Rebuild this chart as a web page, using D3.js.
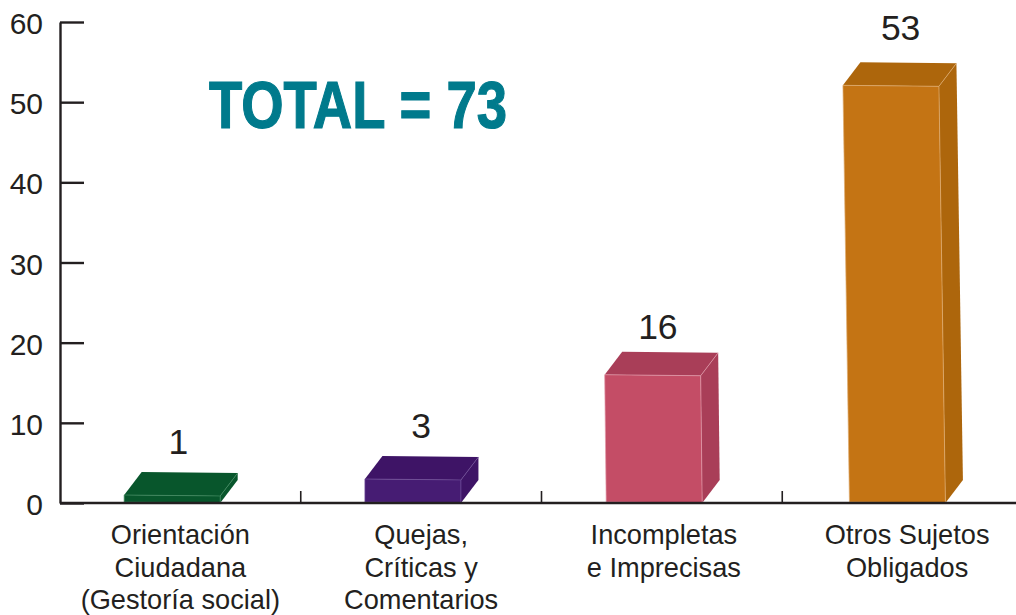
<!DOCTYPE html>
<html>
<head>
<meta charset="utf-8">
<script src="https://cdn.jsdelivr.net/npm/d3@7"></script>
<style>
  html, body { margin: 0; padding: 0; background: #fff; }
  svg { display: block; }
  text { font-family: "Liberation Sans", Arial, sans-serif; fill: #231f20; }
</style>
</head>
<body>
<div id="chart"></div>
<script>
// Data
var categories = ["Orientación", "Quejas", "Incompletas", "Otros Sujetos"];
var categoryLines = [
  ["Orientación", "Ciudadana", "(Gestoría social)"],
  ["Quejas,", "Críticas y", "Comentarios"],
  ["Incompletas", "e Imprecisas"],
  ["Otros Sujetos", "Obligados"]
];
var valueLabels = ["1", "3", "16", "53"];
// heights as drawn (the last bar stops short of its printed 53)
var barHeights = [1, 3, 16, 52.1];
var yTicks = [0, 10, 20, 30, 40, 50, 60];
var totalLabel = "TOTAL = 73";

var frontColors = ["#08562c", "#461c73", "#c44d66", "#c47414"];
var sideColors = ["#08562c", "#3e1466", "#a93e58", "#ad660c"];
var edgeColors = ["#3f8a5f", "#6f4c98", "#e29bab", "#dfae72"];

var svgWidth = 1016;
var svgHeight = 615;

var svg = d3.select("#chart")
  .append("svg")
  .attr("width", svgWidth)
  .attr("height", svgHeight);

// scales
var xScale = d3.scaleBand()
  .domain(categories)
  .range([60, 1023]);

var yScale = d3.scaleLinear()
  .domain([0, 60])
  .range([503, 22]);

// bar shape, the hand drawn boxes lean a little
var barWidth = 96;
var barShift = -8.2;
var depthX = 17.5;
var depthY = 23;
var topLean = [0, 0, -1, -3.5];
var bottomLean = [0, 0, 0.5, 3];

var bars = svg.selectAll("g.bar")
  .data(categories)
  .enter()
  .append("g")
  .attr("class", "bar");

function pts(list) {
  return list.map(p => p.join(",")).join(" ");
}

bars.each(function(d, i) {
  var g = d3.select(this);
  var center = xScale(d) + xScale.bandwidth() / 2 + barShift;
  var top = yScale(barHeights[i]);
  var bottom = yScale(0);
  var tl = [center - barWidth / 2 + topLean[i], top];
  var tr = [center + barWidth / 2 + topLean[i], top + 1];
  var bl = [center - barWidth / 2 + bottomLean[i], bottom - 1];
  var br = [center + barWidth / 2 + bottomLean[i], bottom];
  var tlBack = [tl[0] + depthX, tl[1] - depthY];
  var trBack = [tr[0] + depthX, tr[1] - depthY];
  var brBack = [br[0] + depthX, br[1] - depthY];

  g.append("polygon")
    .attr("points", pts([tr, trBack, brBack, br]))
    .attr("fill", sideColors[i]);
  g.append("polygon")
    .attr("points", pts([tl, tlBack, trBack, tr]))
    .attr("fill", sideColors[i]);
  g.append("polygon")
    .attr("points", pts([tl, tr, br, bl]))
    .attr("fill", frontColors[i])
    .attr("stroke", edgeColors[i])
    .attr("stroke-width", 0.7);
  g.append("line")
    .attr("x1", tr[0]).attr("y1", tr[1])
    .attr("x2", trBack[0]).attr("y2", trBack[1])
    .attr("stroke", edgeColors[i])
    .attr("stroke-width", 0.7);
});

// y axis, ticks point into the plot
var yAxis = svg.append("g")
  .attr("transform", "translate(60, 0)")
  .call(d3.axisLeft(yScale)
    .tickValues(yTicks)
    .tickSize(-24)
    .tickSizeOuter(0)
    .tickPadding(17));

yAxis.selectAll("path, line")
  .attr("stroke", "#231f20")
  .attr("stroke-width", 2.4);
yAxis.selectAll("text")
  .attr("font-size", 30)
  .attr("y", 2)
  .attr("fill", "#231f20");

// x axis line and the ticks between the categories
var baseline = svg.append("g");
baseline.append("line")
  .attr("x1", 60)
  .attr("x2", svgWidth)
  .attr("y1", yScale(0))
  .attr("y2", yScale(0))
  .attr("stroke", "#231f20")
  .attr("stroke-width", 2.4);

baseline.selectAll("line.sep")
  .data(categories.slice(1))
  .enter()
  .append("line")
  .attr("class", "sep")
  .attr("x1", d => xScale(d))
  .attr("x2", d => xScale(d))
  .attr("y1", yScale(0))
  .attr("y2", yScale(0) - 12)
  .attr("stroke", "#231f20")
  .attr("stroke-width", 1.6);

// category labels
var labelNudge = [0, 0, 2, 4.5];
categoryLines.forEach(function(lines, i) {
  var cx = xScale(categories[i]) + xScale.bandwidth() / 2 + labelNudge[i];
  svg.selectAll("text.cat" + i)
    .data(lines)
    .enter()
    .append("text")
    .attr("class", "cat" + i)
    .attr("x", cx)
    .attr("y", (d, j) => 544 + j * 32.6)
    .attr("text-anchor", "middle")
    .attr("font-size", 27.2)
    .text(d => d);
});

// value labels above the bars
var valueNudgeX = [-2, 0, -4, -2];
var valueNudgeY = [-17.5, -17.5, -12.5, -22];
svg.selectAll("text.value")
  .data(valueLabels)
  .enter()
  .append("text")
  .attr("class", "value")
  .attr("x", (d, i) => xScale(categories[i]) + xScale.bandwidth() / 2 + valueNudgeX[i])
  .attr("y", (d, i) => yScale(barHeights[i]) - depthY + valueNudgeY[i])
  .attr("text-anchor", "middle")
  .attr("font-size", 35.5)
  .text(d => d);

// total, squeezed to the condensed width of the original
svg.append("text")
  .attr("x", 209)
  .attr("y", 128)
  .attr("font-size", 66)
  .attr("font-weight", "bold")
  .attr("textLength", 298)
  .attr("lengthAdjust", "spacingAndGlyphs")
  .style("fill", "#007a8c")
  .attr("stroke", "#007a8c")
  .attr("stroke-width", 1.2)
  .text(totalLabel);
</script>
</body>
</html>
